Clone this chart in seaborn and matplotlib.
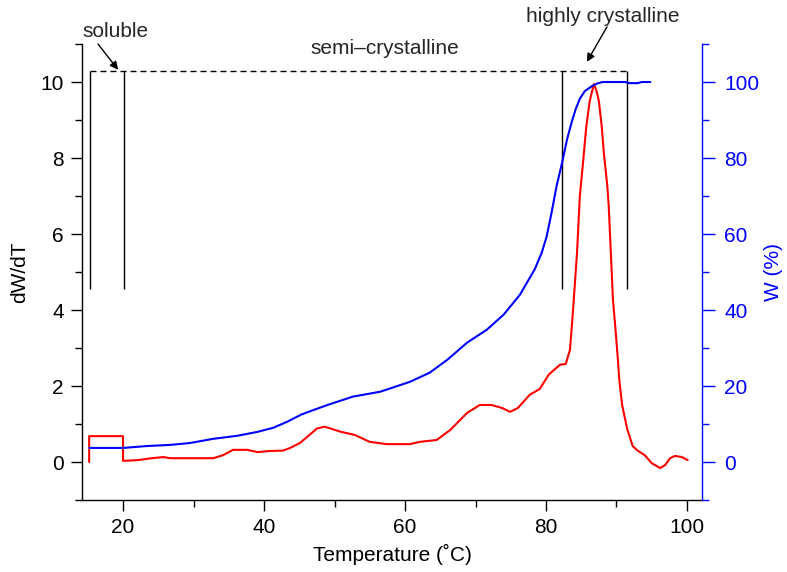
import matplotlib
matplotlib.use("Agg")
import matplotlib.pyplot as plt
import pandas as pd
import seaborn as sns
from matplotlib.ticker import MultipleLocator

# ---- data ----
temp_dwdt = [15.2, 15.2, 20.0, 20.0, 22.1, 24.1, 25.7, 26.7, 30.5, 32.8, 34.2, 35.6,
             37.6, 39.1, 40.8, 42.7, 43.7, 45.1, 46.5, 47.5, 48.6, 50.8, 52.9, 55.0,
             57.4, 60.7, 62.1, 64.5, 66.4, 68.8, 70.6, 72.3, 73.8, 74.9, 76.0, 77.7,
             79.1, 80.4, 81.0, 82.0, 82.8, 83.4, 83.8, 84.4, 84.8, 85.3, 85.7, 86.2,
             86.8, 87.2, 87.5, 87.9, 88.2, 88.7, 88.9, 89.2, 89.5, 89.9, 90.2, 90.4,
             90.8, 91.5, 92.3, 93.0, 94.0, 95.0, 96.2, 96.9, 97.6, 98.3, 99.3, 100.1]
dwdt = [0.0, 0.68, 0.68, 0.03, 0.05, 0.10, 0.13, 0.10, 0.10, 0.10, 0.18, 0.32,
        0.32, 0.26, 0.29, 0.30, 0.37, 0.50, 0.72, 0.88, 0.93, 0.80, 0.71, 0.53,
        0.47, 0.47, 0.53, 0.58, 0.84, 1.29, 1.50, 1.50, 1.42, 1.32, 1.42, 1.77,
        1.92, 2.30, 2.40, 2.56, 2.58, 2.95, 3.90, 5.50, 7.00, 7.97, 8.80, 9.50,
        9.95, 9.74, 9.50, 8.84, 8.15, 7.26, 6.73, 5.51, 4.27, 3.40, 2.69, 2.16,
        1.50, 0.88, 0.42, 0.30, 0.18, -0.03, -0.16, -0.08, 0.10, 0.16, 0.13, 0.05]

temp_w = [15.2, 20.0, 23.4, 26.7, 29.5, 32.8, 36.2, 39.0, 41.3, 43.3, 45.3, 47.5,
          49.0, 52.6, 56.5, 60.7, 63.5, 66.0, 68.8, 71.6, 74.0, 76.3, 77.3, 78.4,
          79.4, 80.1, 80.8, 81.5, 82.3, 83.0, 83.7, 84.2, 84.8, 85.5, 86.5, 87.4,
          88.1, 91.2, 91.9, 93.0, 93.6, 94.8]
w_pct = [3.7, 3.7, 4.2, 4.5, 5.0, 6.1, 6.9, 7.9, 9.0, 10.6, 12.5, 14.0,
         15.0, 17.2, 18.5, 21.1, 23.5, 26.9, 31.4, 34.8, 38.8, 44.0, 47.2, 50.7,
         55.1, 59.4, 65.7, 72.6, 78.9, 85.0, 89.8, 92.8, 95.6, 97.6, 98.9, 99.7,
         100.0, 100.0, 99.7, 99.7, 100.0, 100.0]

region_bounds = [15.3, 20.1, 82.2, 91.5]
region_top = 10.3
region_bottom = 4.56

x_ticks = [20, 40, 60, 80, 100]
left_ticks = [0, 2, 4, 6, 8, 10]
right_ticks = [0, 20, 40, 60, 80, 100]

df_d = pd.DataFrame({"T": temp_dwdt, "dWdT": dwdt})
df_w = pd.DataFrame({"T": temp_w, "W": w_pct})

sns.set_style("ticks")
plt.rcParams["font.family"] = ["Liberation Sans", "DejaVu Sans"]
plt.rcParams["axes.linewidth"] = 1.0

fig = plt.figure(figsize=(7.87, 5.72), dpi=100)
ax = fig.add_axes([82 / 787, 1 - 500 / 572, 620 / 787, 456 / 572])
ax2 = ax.twinx()

sns.lineplot(data=df_d, x="T", y="dWdT", ax=ax, color="#ff0000", lw=1.5,
             sort=False, estimator=None)
sns.lineplot(data=df_w, x="T", y="W", ax=ax2, color="#0000ff", lw=1.5,
             sort=False, estimator=None)

ax.set_xlim(14.18, 102.13)
ax.set_ylim(-1, 11)
ax2.set_ylim(-10, 110)

ax.set_xticks(x_ticks)
ax.xaxis.set_minor_locator(MultipleLocator(10))
ax.set_yticks(left_ticks)
ax.yaxis.set_minor_locator(MultipleLocator(1))
ax2.set_yticks(right_ticks)
ax2.yaxis.set_minor_locator(MultipleLocator(10))

ax.tick_params(axis="both", which="major", direction="out", length=8, width=1,
               labelsize=15, color="black", labelcolor="black", pad=5)
ax.tick_params(axis="both", which="minor", direction="out", length=5, width=1,
               color="black")
ax2.tick_params(axis="y", which="major", direction="out", length=9, width=1,
                labelsize=15, color="#0000ff", labelcolor="#0000ff", pad=7)
ax2.tick_params(axis="y", which="minor", direction="out", length=5, width=1,
                color="#0000ff")

for s in ["top", "right"]:
    ax.spines[s].set_visible(False)
for s in ["top", "left", "bottom"]:
    ax2.spines[s].set_visible(False)
ax2.spines["right"].set_color("#0000ff")
ax.spines["left"].set_color("black")
ax.spines["bottom"].set_color("black")

ax.set_xlabel("Temperature (˚C)", fontsize=15, color="black", labelpad=5)
ax.set_ylabel("dW/dT", fontsize=15, color="black", labelpad=8)
ax2.set_ylabel("W (%)", fontsize=15, color="#0000ff", labelpad=3)

# region markers
ax.vlines(region_bounds, region_bottom, region_top, color="black", lw=1.0)
ax.hlines(region_top, region_bounds[0], region_bounds[-1], color="black",
          lw=1.0, linestyles=(0, (4.3, 2.9)))

ax.text(18.9, 11.32, "soluble", fontsize=15, ha="center", va="center")
ax.text(57.2, 10.87, "semi–crystalline", fontsize=15, ha="center", va="center")
ax.text(88.1, 11.72, "highly crystalline", fontsize=15, ha="center", va="center",
        clip_on=False)

arrow = dict(arrowstyle="-|>", color="black", lw=1.0, mutation_scale=12,
             shrinkA=0, shrinkB=0)
ax.annotate("", xy=(19.3, 10.32), xytext=(16.45, 11.0), arrowprops=arrow,
            annotation_clip=False)
ax.annotate("", xy=(85.8, 10.53), xytext=(88.65, 11.45), arrowprops=arrow,
            annotation_clip=False)

fig.savefig("out.png", dpi=100)
